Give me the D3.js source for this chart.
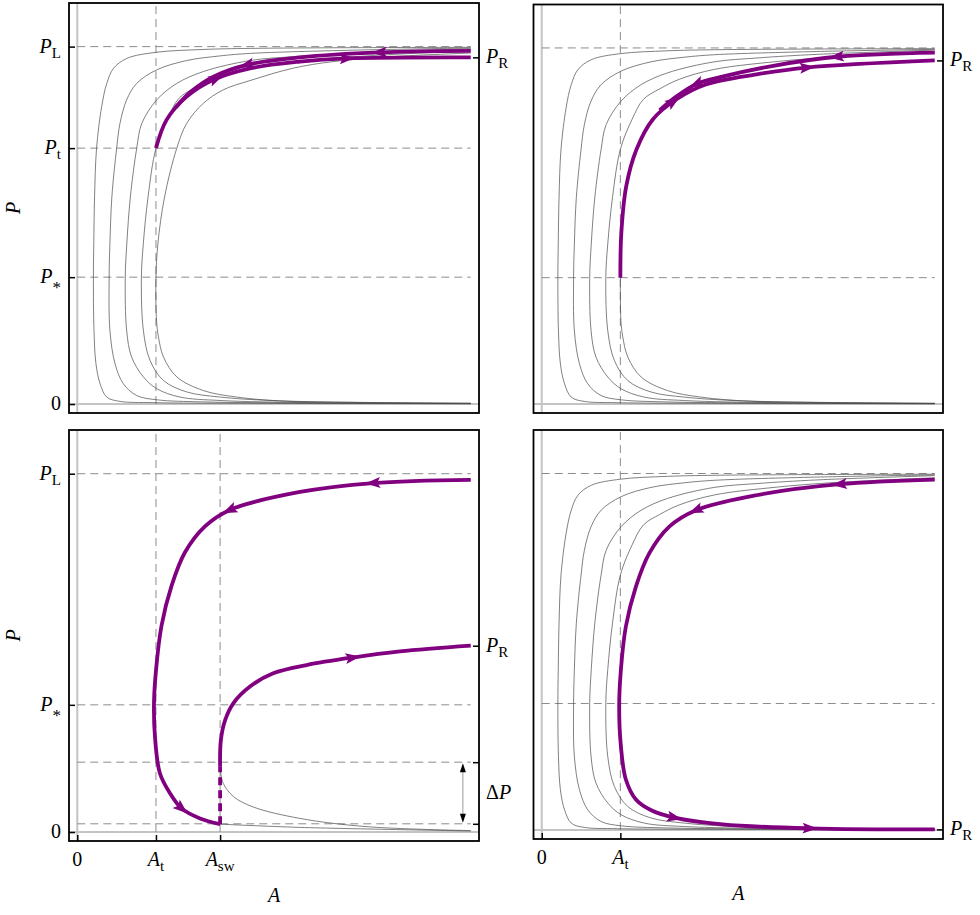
<!DOCTYPE html>
<html>
<head>
<meta charset="utf-8">
<script src="https://cdn.jsdelivr.net/npm/d3@7"></script>
<style>
  body { margin: 0; background: #fff; }
  svg text { font-family: "Liberation Serif", "Times New Roman", serif; fill: #000; }
</style>
</head>
<body>
<svg id="chart" width="980" height="915"></svg>
<script>
// characteristic levels (P in units of P_L, A in units of the plotted range)
const P_L = 1, P_t = 0.716, P_star = 0.355;
const A_t = 0.2, A_sw = 0.363;
const dP_hi = 0.195, dP_lo = 0.023;
const PR_tl = 0.970, PR_tr = 0.965, PR_bl = 0.52, PR_br = 0.002;

// gray trajectories: upper branch (from the right end to the turning point), then lower branch
const c1Up = [[1.0,0.998],[0.70,0.997],[0.44,0.995],[0.32,0.992],[0.20,0.984],[0.126,0.967],[0.092,0.939],[0.075,0.897],[0.062,0.832],[0.049,0.715],[0.044,0.58],[0.042,0.45],[0.041,0.355]];
const c1Down = [[0.041,0.355],[0.0425,0.206],[0.0475,0.113],[0.058,0.057],[0.075,0.0196],[0.108,0.0076],[0.193,0.004],[0.45,0.002],[1.0,0.001]];
const c2Up = [[1.0,0.996],[0.70,0.99],[0.44,0.981],[0.363,0.974],[0.278,0.961],[0.202,0.935],[0.151,0.897],[0.1255,0.851],[0.1085,0.785],[0.100,0.715],[0.088,0.58],[0.083,0.45],[0.081,0.355]];
const c2Down = [[0.081,0.355],[0.083,0.206],[0.096,0.113],[0.117,0.057],[0.151,0.024],[0.202,0.012],[0.32,0.006],[0.6,0.003],[1.0,0.001]];
const c3Up = [[1.0,0.994],[0.70,0.982],[0.55,0.972],[0.439,0.961],[0.32,0.930],[0.253,0.897],[0.202,0.851],[0.164,0.785],[0.151,0.715],[0.135,0.58],[0.126,0.45],[0.122,0.355]];
const c3Down = [[0.122,0.355],[0.1255,0.206],[0.138,0.132],[0.168,0.076],[0.202,0.043],[0.261,0.0196],[0.363,0.010],[0.6,0.004],[1.0,0.002]];
const c4Up = [[1.0,0.988],[0.75,0.975],[0.6,0.962],[0.44,0.94],[0.35,0.912],[0.30,0.885],[0.259,0.856],[0.23,0.80],[0.2,0.715],[0.18,0.58],[0.168,0.45],[0.163,0.355]];
const c4Down = [[0.163,0.355],[0.168,0.206],[0.185,0.122],[0.219,0.066],[0.278,0.034],[0.363,0.0196],[0.49,0.01],[0.7,0.005],[1.0,0.002]];
const c5Up = [[1.0,0.982],[0.80,0.972],[0.65,0.958],[0.55,0.94],[0.439,0.905],[0.371,0.879],[0.32,0.841],[0.278,0.785],[0.2527,0.715],[0.222,0.58],[0.205,0.45],[0.2,0.355]];
const c5Down = [[0.2,0.355],[0.2014,0.235],[0.206,0.19],[0.219,0.132],[0.253,0.076],[0.32,0.038],[0.405,0.0196],[0.532,0.008],[0.75,0.004],[1.0,0.002]];

// bottom-left thin curves
const blGray1 = [[0.363,0.178],[0.371,0.136],[0.397,0.099],[0.447,0.07],[0.566,0.038],[0.736,0.015],[1.0,0.004]];
const blGray2 = [[0.363,0.022],[0.566,0.013],[1.0,0.003]];

// highlighted (purple) paths, listed in the direction of motion
const tlOut  = [[0.2,0.716],[0.227,0.795],[0.278,0.86],[0.346,0.907],[0.439,0.939],[0.566,0.958],[0.685,0.967],[1.0,0.970]];
const tlBack = [[1.0,0.988],[0.769,0.984],[0.566,0.970],[0.431,0.949],[0.346,0.916],[0.29,0.875],[0.25,0.83]];
const trOut  = [[0.2,0.355],[0.2025,0.481],[0.215,0.612],[0.241,0.715],[0.283,0.80],[0.343,0.856],[0.419,0.898],[0.547,0.926],[0.674,0.945],[1.0,0.965]];
const trBack = [[1.0,0.987],[0.759,0.976],[0.589,0.950],[0.462,0.920],[0.394,0.899],[0.343,0.864],[0.30,0.825]];
const blFall = [[1.0,0.983],[0.752,0.974],[0.566,0.949],[0.388,0.899],[0.3245,0.853],[0.2735,0.78],[0.2396,0.687],[0.214,0.575],[0.2,0.45],[0.195,0.36],[0.1975,0.266],[0.21,0.164],[0.2357,0.108],[0.265,0.066],[0.312,0.038],[0.363,0.022]];
const blJump = [[0.363,0.022],[0.363,0.182]];
const blRise = [[0.363,0.182],[0.365,0.257],[0.376,0.313],[0.397,0.36],[0.439,0.406],[0.498,0.443],[0.583,0.466],[0.70,0.487],[0.82,0.504],[1.0,0.52]];
const brLoop = [[1.0,0.983],[0.758,0.970],[0.5455,0.939],[0.3926,0.897],[0.3245,0.851],[0.2735,0.776],[0.2396,0.683],[0.214,0.571],[0.2014,0.45],[0.197,0.347],[0.2014,0.235],[0.214,0.142],[0.2396,0.086],[0.28,0.055],[0.337,0.035],[0.46,0.016],[0.681,0.005],[1.0,0.002]];

// where the arrowheads sit on each path
const tlOutArrows = [[0.354,0.906],[0.685,0.966]];
const tlBackArrows = [[0.769,0.986],[0.431,0.949]];
const trOutArrows = [[0.334,0.85],[0.674,0.945]];
const trBackArrows = [[0.751,0.975],[0.394,0.899]];
const blFallArrows = [[0.752,0.974],[0.388,0.899],[0.265,0.066]];
const blRiseArrows = [[0.70,0.487]];
const brLoopArrows = [[0.758,0.970],[0.3926,0.897],[0.337,0.035],[0.681,0.005]];

const PURPLE = '#800080';
const ARROW = 'M8,0 L-7,-5.5 L-4,0 L-7,5.5 Z';
const svg = d3.select('#chart');

const line = (x, y) => d3.line()
  .x(d => x(d[0])).y(d => y(d[1]))
  .curve(d3.curveCatmullRom.alpha(0.5));

// text with an italic base letter and a roman subscript
function label(g, x, y, parts, anchor) {
  const t = g.append('text').attr('x', x).attr('y', y)
    .attr('text-anchor', anchor).attr('font-size', 20);
  parts.forEach(p => {
    const s = t.append('tspan').text(p.t);
    if (p.i) s.attr('font-style', 'italic');
    if (p.sub) s.attr('font-size', p.size || 15).attr('dy', p.dy || 5);
  });
  return t;
}
const P_ = sub => sub ? [{t: 'P', i: true}, {t: sub, sub: true}] : [{t: 'P', i: true}];
const P_STAR = [{t: 'P', i: true}, {t: '*', sub: true, size: 17, dy: 10}];
const A_ = sub => [{t: 'A', i: true}, {t: sub, sub: true}];
const ZERO = [{t: '0'}];

function addArrows(g, node, targets, x, y) {
  const len = node.getTotalLength();
  targets.forEach(([a, p]) => {
    const tx = x(a), ty = y(p);
    let best = 0, bd = Infinity;
    for (let l = 0; l <= len; l += 0.5) {
      const pt = node.getPointAtLength(l);
      const d = (pt.x - tx) ** 2 + (pt.y - ty) ** 2;
      if (d < bd) { bd = d; best = l; }
    }
    const p0 = node.getPointAtLength(Math.max(0, best - 3));
    const p1 = node.getPointAtLength(Math.min(len, best + 3));
    const ang = Math.atan2(p1.y - p0.y, p1.x - p0.x) * 180 / Math.PI;
    const pt = node.getPointAtLength(best);
    g.append('path').attr('d', ARROW).attr('fill', PURPLE)
      .attr('transform', `translate(${pt.x},${pt.y}) rotate(${ang})`);
  });
}

function panel(cfg) {
  const {left, top, w, h} = cfg;
  const x = d3.scaleLinear().domain([-0.021, 1.021]).range([0, w]);
  const y = d3.scaleLinear().domain([-0.025, 1.122]).range([h, 0]);
  const g = svg.append('g').attr('transform', `translate(${left},${top})`);
  const ln = line(x, y);

  // light axes through the origin
  g.append('line').attr('x1', x(0)).attr('x2', x(0)).attr('y1', 0).attr('y2', h)
    .attr('stroke', '#c4c4c4').attr('stroke-width', 2);
  g.append('line').attr('x1', 0).attr('x2', w).attr('y1', y(0)).attr('y2', y(0))
    .attr('stroke', '#c4c4c4').attr('stroke-width', 2);

  // dashed guides
  const guides = g.append('g').attr('stroke', '#8c8c8c').attr('stroke-width', 1)
    .attr('stroke-dasharray', '8,5').attr('fill', 'none');
  cfg.hGuides.forEach(p => guides.append('line')
    .attr('x1', x(0)).attr('x2', x(1)).attr('y1', y(p)).attr('y2', y(p)));
  cfg.vGuides.forEach(a => guides.append('line')
    .attr('x1', x(a)).attr('x2', x(a)).attr('y1', y(0)).attr('y2', 0));

  // thin trajectories
  g.append('g').selectAll('path').data(cfg.gray).join('path')
    .attr('d', ln).attr('fill', 'none').attr('stroke', '#4a4a4a').attr('stroke-width', 0.7);

  // highlighted paths with arrowheads
  cfg.purple.forEach(pp => {
    const path = g.append('path').attr('d', ln(pp.pts)).attr('fill', 'none')
      .attr('stroke', PURPLE).attr('stroke-width', 3.8);
    if (pp.dash) path.attr('stroke-dasharray', pp.dash);
    if (pp.arrows) addArrows(g, path.node(), pp.arrows, x, y);
  });

  // frame
  g.append('rect').attr('width', w).attr('height', h)
    .attr('fill', 'none').attr('stroke', '#000').attr('stroke-width', 1.8);

  // ticks (pointing inward) and their labels
  const tickStyle = s => { s.select('.domain').remove(); s.selectAll('line').attr('stroke', '#000').attr('stroke-width', 1.5); };
  if (cfg.leftTicks) {
    g.append('g').call(d3.axisLeft(y).tickValues(cfg.leftTicks.map(d => d.v)).tickSize(-6).tickFormat(''))
      .call(tickStyle);
    cfg.leftTicks.forEach(d => label(g, -8, y(d.v) + 6, d.lab, 'end'));
  }
  if (cfg.rightTicks) {
    g.append('g').attr('transform', `translate(${w},0)`)
      .call(d3.axisRight(y).tickValues(cfg.rightTicks.map(d => d.v)).tickSize(-6).tickFormat(''))
      .call(tickStyle);
    cfg.rightTicks.filter(d => d.lab).forEach(d => label(g, w + 7, y(d.v) + 6, d.lab, 'start'));
  }
  if (cfg.bottomTicks) {
    g.append('g').attr('transform', `translate(0,${h})`)
      .call(d3.axisBottom(x).tickValues(cfg.bottomTicks.map(d => d.v)).tickSize(-6).tickFormat(''))
      .call(tickStyle);
    cfg.bottomTicks.forEach(d => label(g, x(d.v), h + 25, d.lab, 'middle'));
    label(g, w / 2, h + 61, [{t: 'A', i: true}], 'middle');
  }
  if (cfg.leftTitle) {
    g.append('text').attr('transform', `translate(${20 - left},${h / 2}) rotate(-90)`)
      .attr('text-anchor', 'middle').attr('font-size', 20).attr('font-style', 'italic').text('P');
  }
  if (cfg.deltaP) {
    const ax = x(0.98);
    g.append('line').attr('x1', ax).attr('x2', ax)
      .attr('y1', y(dP_hi) + 3).attr('y2', y(dP_lo) - 3)
      .attr('stroke', '#9a9a9a').attr('stroke-width', 1);
    g.append('path').attr('d', `M${ax},${y(dP_hi) + 1} l-3,9 l6,0 Z`).attr('fill', '#000');
    g.append('path').attr('d', `M${ax},${y(dP_lo) - 1} l-3,-9 l6,0 Z`).attr('fill', '#000');
    label(g, w + 7, y((dP_hi + dP_lo) / 2) + 6, [{t: 'Δ'}, {t: 'P', i: true}], 'start');
  }
  return g;
}

const family = [c1Up.concat(c1Down.slice(1)), c2Up.concat(c2Down.slice(1)),
  c3Up.concat(c3Down.slice(1)), c4Up.concat(c4Down.slice(1))];

// top-left
panel({
  left: 69, top: 3, w: 410, h: 410,
  hGuides: [P_L, P_t, P_star], vGuides: [A_t],
  gray: family.concat([c5Up.concat(c5Down.slice(1))]),
  purple: [{pts: tlOut, arrows: tlOutArrows}, {pts: tlBack, arrows: tlBackArrows}],
  leftTicks: [{v: P_L, lab: P_('L')}, {v: P_t, lab: P_('t')}, {v: P_star, lab: P_STAR}, {v: 0, lab: ZERO}],
  rightTicks: [{v: PR_tl, lab: P_('R')}],
  leftTitle: true
});

// top-right
panel({
  left: 533.5, top: 4.5, w: 409.5, h: 408.5,
  hGuides: [P_L, P_star], vGuides: [A_t],
  gray: family.concat([c5Down]),
  purple: [{pts: trOut, arrows: trOutArrows}, {pts: trBack, arrows: trBackArrows}],
  rightTicks: [{v: PR_tr, lab: P_('R')}]
});

// bottom-left
panel({
  left: 69, top: 430, w: 410, h: 411,
  hGuides: [P_L, P_star, dP_hi, dP_lo], vGuides: [A_t, A_sw],
  gray: [blGray1, blGray2],
  purple: [{pts: blFall, arrows: blFallArrows}, {pts: blJump, dash: '8,5'}, {pts: blRise, arrows: blRiseArrows}],
  leftTicks: [{v: P_L, lab: P_('L')}, {v: P_star, lab: P_STAR}, {v: 0, lab: ZERO}],
  rightTicks: [{v: PR_bl, lab: P_('R')}, {v: dP_hi}, {v: dP_lo}],
  bottomTicks: [{v: 0, lab: ZERO}, {v: A_t, lab: A_('t')}, {v: A_sw, lab: A_('sw')}],
  leftTitle: true, deltaP: true
});

// bottom-right
panel({
  left: 533.5, top: 430, w: 409.5, h: 409,
  hGuides: [P_L, P_star], vGuides: [A_t],
  gray: family,
  purple: [{pts: brLoop, arrows: brLoopArrows}],
  rightTicks: [{v: PR_br, lab: P_('R')}],
  bottomTicks: [{v: 0, lab: ZERO}, {v: A_t, lab: A_('t')}]
});
</script>
</body>
</html>
